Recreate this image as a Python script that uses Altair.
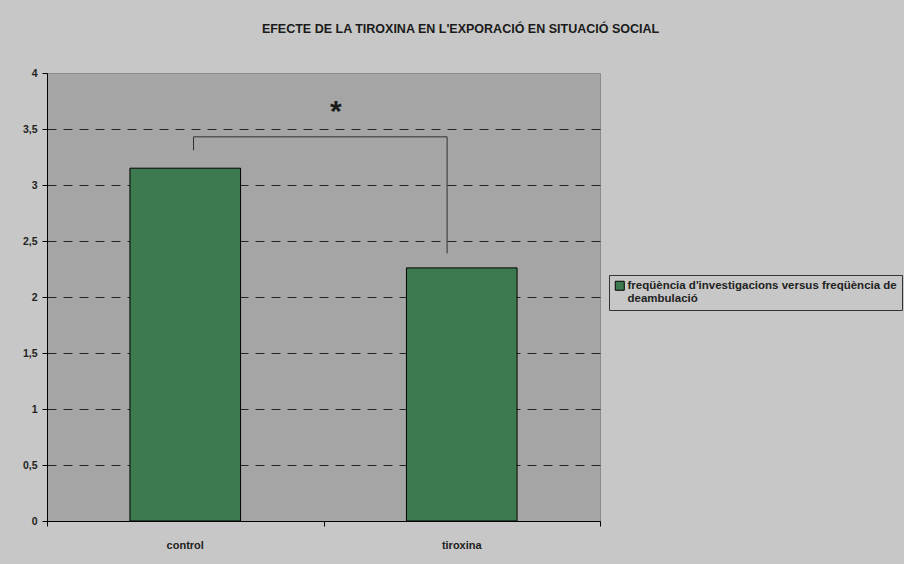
import altair as alt
import pandas as pd

# Bar values per group
grups = ["control", "tiroxina"]
valors = [3.15, 2.26]
serie = "freqüència d'investigacions versus freqüència de deambulació"

# Significance bracket, on a category-index axis (0..2, group i spans i..i+1)
bracket_x = [0.53, 0.53, 1.447, 1.447]
bracket_y = [3.31, 3.43, 3.43, 2.39]
asterisc_x = 1.045
asterisc_y = 3.72

y_ticks = [0, 0.5, 1, 1.5, 2, 2.5, 3, 3.5, 4]
cat_bounds = [0, 1, 2]

FONT = "Liberation Sans"
BG = "#c6c7c6"
PLOT_BG = "#a4a5a4"
GREEN = "#3e7a50"

bars_df = pd.DataFrame({"grup": grups, "valor": valors, "serie": [serie] * len(grups)})

x_scale = alt.Scale(type="band", domain=grups, paddingInner=0.6, paddingOuter=0.3)
idx_scale = alt.Scale(domain=[0, 2], nice=False, zero=False)
y_scale = alt.Scale(domain=[0, 4], nice=False)

bars = alt.Chart(bars_df).mark_bar(stroke="black", strokeWidth=1).encode(
    x=alt.X(
        "grup:N",
        scale=x_scale,
        sort=grups,
        axis=alt.Axis(
            title=None, orient="bottom", ticks=False, domain=True, domainColor="black",
            labelAngle=0, labelPadding=18, labelFont=FONT, labelFontSize=11,
            labelFontWeight="bold", labelColor="#222222", grid=False,
        ),
    ),
    y=alt.Y(
        "valor:Q",
        scale=y_scale,
        axis=alt.Axis(
            title=None, values=y_ticks, grid=True, gridDash=[9, 7], gridColor="#262626",
            gridWidth=1,
            gridOpacity={"condition": {"test": "datum.value >= 4", "value": 0}, "value": 1},
            domain=True, domainColor="black", tickColor="black", tickSize=5,
            labelPadding=5, labelFont=FONT, labelFontSize=10.5, labelFontWeight="bold",
            labelColor="#222222",
            labelExpr="replace(format(datum.value, '~g'), '.', ',')",
        ),
    ),
    color=alt.Color(
        "serie:N",
        scale=alt.Scale(range=[GREEN]),
        legend=alt.Legend(
            title=None, orient="none", legendX=562, legendY=202,
            strokeColor="#333333", fillColor=BG, padding=5,
            symbolType="square", symbolSize=81, symbolStrokeColor="black",
            symbolStrokeWidth=1, labelFont=FONT, labelFontSize=11.5,
            labelFontWeight="bold", labelColor="#222222", labelLimit=0,
            labelOffset=2,
            labelExpr="[substring(datum.label, 0, lastindexof(datum.label, ' ')), "
                      "substring(datum.label, lastindexof(datum.label, ' ') + 1)]",
        ),
    ),
)

bracket_df = pd.DataFrame({"x": bracket_x, "y": bracket_y, "o": list(range(len(bracket_x)))})
bracket = alt.Chart(bracket_df).mark_line(color="#303030", strokeWidth=1).encode(
    x=alt.X("x:Q", scale=idx_scale, axis=None),
    y=alt.Y("y:Q", scale=y_scale),
    order="o:O",
)

# Asterisk; its layer also carries the tick marks between categories
ast_df = pd.DataFrame({"x": [asterisc_x], "y": [asterisc_y], "t": ["*"]})
asterisc = alt.Chart(ast_df).mark_text(
    font=FONT, fontSize=30, fontWeight="bold", color="#1a1a1a", baseline="middle", dy=8
).encode(
    x=alt.X(
        "x:Q", scale=idx_scale,
        axis=alt.Axis(
            title=None, orient="bottom", values=cat_bounds, labels=False, ticks=True,
            tickSize=5, tickColor="black", domain=False, grid=False,
        ),
    ),
    y=alt.Y("y:Q", scale=y_scale),
    text="t:N",
)

chart = (
    alt.layer(bars, bracket, asterisc)
    .resolve_scale(x="independent")
    .resolve_axis(x="independent")
    .properties(
        width=553,
        height=448,
        autosize=alt.AutoSizeParams(type="none"),
        padding={"left": 47, "top": 73, "right": 304, "bottom": 43},
        background=BG,
        title=alt.TitleParams(
            "EFECTE DE LA TIROXINA EN L'EXPORACIÓ EN SITUACIÓ SOCIAL",
            font=FONT, fontSize=12.5, fontWeight="bold", color="#1a1a1a",
            anchor="middle", dx=137, offset=33,
        ),
    )
    .configure_view(fill=PLOT_BG, stroke="#8c8c8c", strokeWidth=1)
)

chart.save("out.html", embed_options={"renderer": "svg", "actions": False})
